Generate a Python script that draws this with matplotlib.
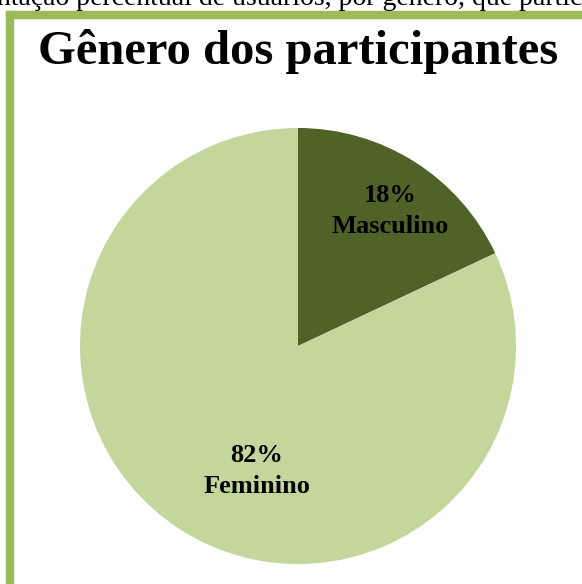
import matplotlib
matplotlib.use("Agg")
import matplotlib.pyplot as plt
from matplotlib.patches import Rectangle

labels = ["Masculino", "Feminino"]
shares = [18, 82]
colors = ["#4F6228", "#C3D69B"]
title = "Gênero dos participantes"
caption = "ntação percentual de usuários, por gênero, que partic"

W, H = 582, 584
fig = plt.figure(figsize=(W / 100, H / 100), dpi=100)
fig.patch.set_facecolor("white")

# green frame (left + top visible)
fig.patches.append(Rectangle((6 / W, -0.1), 7 / W, (H - 11) / H + 0.1, transform=fig.transFigure,
                             color="#9BBB59", zorder=1))
fig.patches.append(Rectangle((6 / W, (H - 18) / H), 1.0, 7 / H, transform=fig.transFigure,
                             color="#9BBB59", zorder=1))

# caption line cut off at the top, as in the source screenshot
fig.text(-3 / W, (H - 5) / H, caption, fontsize=20, family="Liberation Serif",
         ha="left", va="baseline")

fig.text(298 / W, (H - 52) / H, title, fontsize=35, fontweight="bold",
         family="Liberation Serif", ha="center", va="center")

cx, cy, r = 298, 346, 218
ax = fig.add_axes([(cx - r) / W, (H - cy - r) / H, 2 * r / W, 2 * r / H])
ax.pie(shares, colors=colors, startangle=90, counterclock=False,
       wedgeprops=dict(linewidth=0))
ax.set_aspect("equal")
ax.set_xlim(-1, 1)
ax.set_ylim(-1, 1)

pos = [(390, 211), (257, 471)]
for (px, py), lab, s in zip(pos, labels, shares):
    fig.text(px / W, (H - py) / H, "%d%%\n%s" % (s, lab), fontsize=19, fontweight="bold",
             family="Liberation Serif", ha="center", va="center", linespacing=1.45)

fig.savefig("out.png", dpi=100)
